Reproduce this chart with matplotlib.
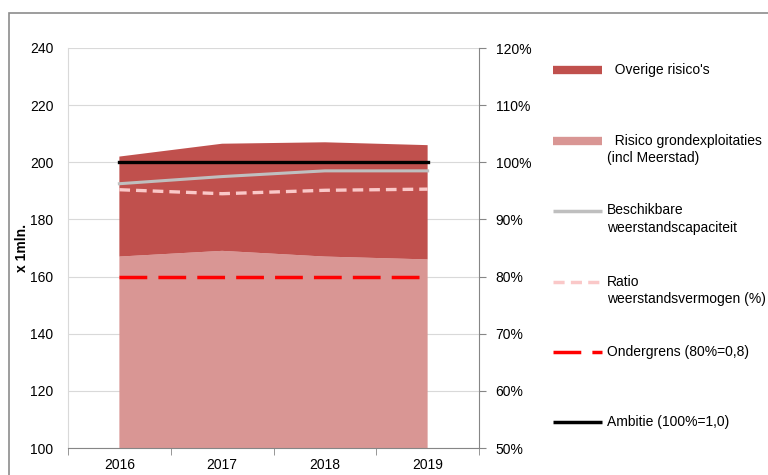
import matplotlib.pyplot as plt
from matplotlib.lines import Line2D
from matplotlib.patches import Rectangle
from matplotlib.ticker import PercentFormatter

plt.rcParams['font.family'] = ['Liberation Sans', 'DejaVu Sans']
plt.rcParams['font.size'] = 10

# data (x 1 mln.)
jaren = ['2016', '2017', '2018', '2019']
risico_grex = [167, 169, 167, 166]
overige_risicos = [35, 37.5, 40, 40]
beschikbaar = [192.5, 195, 197, 197]
ratio = [0.952, 0.945, 0.951, 0.953]
ondergrens = [160, 160, 160, 160]
ambitie = [200, 200, 200, 200]

c_overig = '#C0504D'
c_grex = '#D99694'
c_beschik = '#BFBFBF'
c_ratio = '#FAC8C8'
c_onder = '#FF0000'
c_ambitie = '#000000'

fig = plt.figure(figsize=(7.68, 4.75), dpi=100)
W, H = 768, 475
ax = fig.add_axes([68 / W, 1 - 448 / H, (479 - 68) / W, 400 / H])

# buitenrand
fig.patches.append(Rectangle((9 / W, -0.1), 1.2, 1 - 13 / H + 0.1, transform=fig.transFigure,
                             fill=False, edgecolor='#8C8C8C', linewidth=1.2))

x = list(range(len(jaren)))
ax.stackplot(x, risico_grex, overige_risicos, colors=[c_grex, c_overig], zorder=2)
ax.plot(x, beschikbaar, color=c_beschik, lw=2.2, zorder=3)
ax.plot(x, ondergrens, color=c_onder, lw=2.5, dashes=(8, 3.2), zorder=3)
ax.plot(x, ambitie, color=c_ambitie, lw=2.4, zorder=4)

ax.set_xlim(-0.5, 3.5)
ax.set_ylim(100, 240)
ax.set_yticks(range(100, 241, 20))
ax.grid(axis='y', color='#D9D9D9', lw=0.8, zorder=0)
ax.set_axisbelow(True)
ax.set_xticks(x)
ax.set_xticklabels(jaren)
ax.set_xticks([-0.5, 0.5, 1.5, 2.5, 3.5], minor=True)
ax.tick_params(axis='x', which='major', length=0, pad=7.5, labelsize=10)
ax.tick_params(axis='x', which='minor', length=5, color='#868686', direction='out')
ax.tick_params(axis='y', length=0, pad=10.5, labelsize=10)
ax.spines['top'].set_visible(False)
ax.spines['right'].set_visible(False)
ax.spines['left'].set_color('#D9D9D9')
ax.spines['bottom'].set_color('#868686')
fig.text(22 / W, 1 - 248 / H, 'x 1mln.', rotation=90, ha='center', va='center',
         fontweight='bold', fontsize=10)

ax2 = ax.twinx()
ax2.plot(x, ratio, color=c_ratio, lw=2.4, dashes=(3.2, 1.8), zorder=3)
ax2.set_ylim(0.5, 1.2)
ax2.set_yticks([0.5, 0.6, 0.7, 0.8, 0.9, 1.0, 1.1, 1.2])
ax2.yaxis.set_major_formatter(PercentFormatter(1.0, decimals=0))
ax2.tick_params(axis='y', length=5, color='#868686', pad=7, labelsize=10)
for s in ['top', 'left', 'bottom']:
    ax2.spines[s].set_visible(False)
ax2.spines['right'].set_color('#868686')

# legenda
legenda = [
    (70, dict(color=c_overig, lw=6, solid_capstyle='butt'), "  Overige risico's"),
    (141, dict(color=c_grex, lw=6, solid_capstyle='butt'), "  Risico grondexploitaties\n(incl Meerstad)"),
    (211, dict(color=c_beschik, lw=2.5, solid_capstyle='butt'), "Beschikbare\nweerstandscapaciteit"),
    (282, dict(color=c_ratio, lw=2.5, dashes=(3.2, 1.8)), "Ratio\nweerstandsvermogen (%)"),
    (352, dict(color=c_onder, lw=2.5, dashes=(8, 3.2)), "Ondergrens (80%=0,8)"),
    (422, dict(color=c_ambitie, lw=2.5, solid_capstyle='butt'), "Ambitie (100%=1,0)"),
]
for ypix, stijl, tekst in legenda:
    yf = 1 - ypix / H
    fig.add_artist(Line2D([553 / W, 602 / W], [yf, yf], transform=fig.transFigure, **stijl))
    if '\n' in tekst:
        fig.text(607 / W, yf + 7.5 / H, tekst, ha='left', va='top', fontsize=10, linespacing=1.3)
    else:
        fig.text(607 / W, yf, tekst, ha='left', va='center', fontsize=10)

fig.savefig('out.png', dpi=100)
